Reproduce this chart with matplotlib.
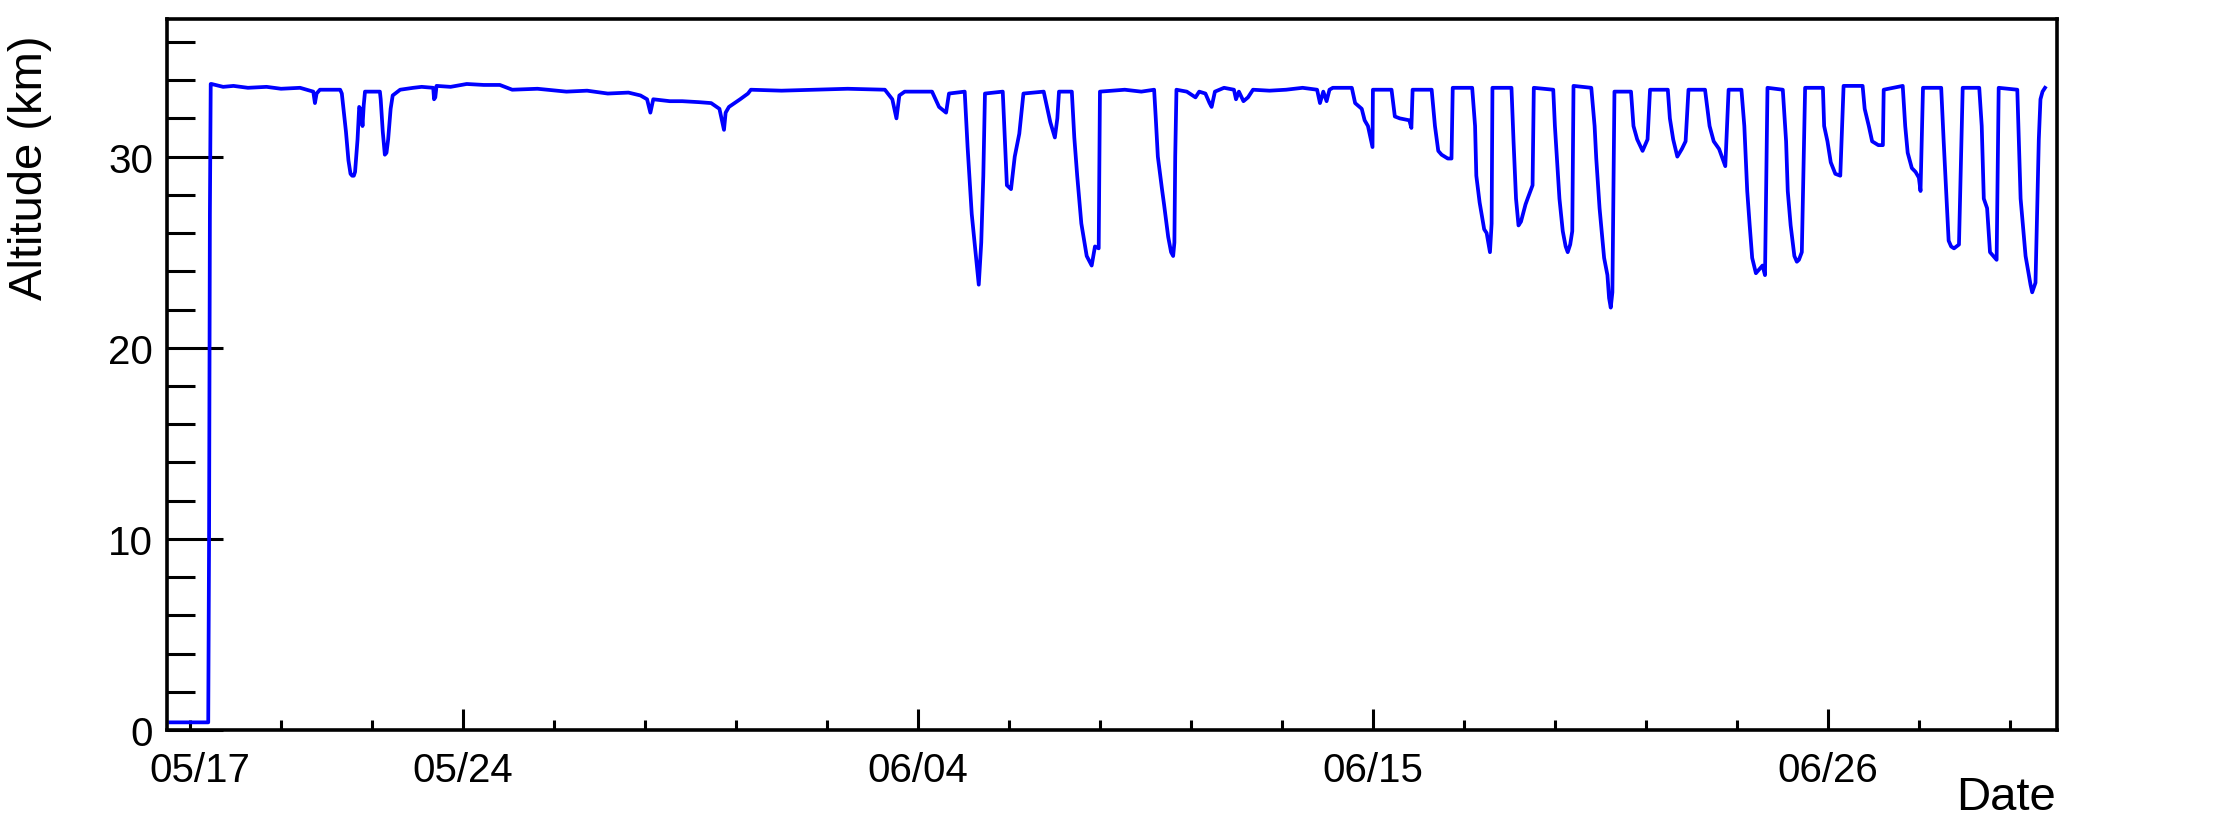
import matplotlib
matplotlib.use("Agg")
import matplotlib.pyplot as plt
from matplotlib.ticker import FixedLocator

plt.rcParams['font.family'] = ['Liberation Sans', 'DejaVu Sans']

# time in days since 05/17 00:00, altitude in km
days = [
    -0.08, 0.84, 0.86, 0.87, 0.88, 0.90,
    0.92, 1.2, 1.45, 1.8, 2.25, 2.6, 3.06, 3.38, 3.42, 3.46, 3.54, 4.03, 4.07,
    4.09, 4.17, 4.23, 4.28, 4.32, 4.36, 4.39, 4.45, 4.49, 4.52, 4.55, 4.57,
    4.60, 4.63, 4.99, 5.01, 5.06, 5.11, 5.15, 5.19, 5.25, 5.30, 5.48, 5.8,
    6.00, 6.28, 6.30, 6.33, 6.36, 6.7, 7.09, 7.5, 7.89,
    8.19, 8.8, 9.5, 10.0, 10.5, 11.0, 11.29, 11.45, 11.53, 11.6, 12.0, 12.3,
    12.7, 13.0, 13.2, 13.31, 13.35, 13.43, 13.7, 13.89, 13.96, 14.7, 15.5,
    16.3, 17.2, 17.38, 17.48, 17.55, 17.68, 18.34, 18.51, 18.68, 18.75,
    19.13, 19.2, 19.3, 19.4, 19.47, 19.53, 19.58, 19.62, 20.05, 20.1, 20.15,
    20.25, 20.34, 20.45, 20.55, 21.04, 21.1, 21.2, 21.31, 21.37, 21.41,
    21.72, 21.78, 21.85, 21.95, 22.08, 22.2, 22.28, 22.37, 22.40,
    23.0, 23.4, 23.71, 23.75, 23.8, 23.9, 23.95, 24.05, 24.12, 24.17, 24.20,
    24.22, 24.25, 24.5, 24.71, 24.8, 24.95, 25.05, 25.10, 25.18, 25.4, 25.64,
    25.69, 25.76, 25.87, 25.98, 26.10, 26.5, 26.9, 27.3, 27.65, 27.72,
    27.80, 27.88, 27.95, 28.03, 28.49, 28.57, 28.73, 28.80, 28.88, 28.99,
    29.00, 29.45, 29.53, 29.65, 29.88, 29.93, 29.96, 30.42, 30.50, 30.58,
    30.66, 30.81, 30.90, 30.93, 31.40, 31.47, 31.50, 31.58, 31.69, 31.75,
    31.83, 31.87, 31.89, 32.35, 32.40, 32.46, 32.52, 32.58, 32.69, 32.74,
    32.86, 32.89, 33.36, 33.40, 33.45, 33.51, 33.59, 33.66, 33.71, 33.77,
    33.82, 33.85, 34.28, 34.36, 34.40, 34.48, 34.59, 34.67, 34.71, 34.75,
    34.79, 34.84, 35.24, 35.30, 35.39, 35.52, 35.64, 35.70, 36.13, 36.18,
    36.26, 36.36, 36.47, 36.56, 36.63, 37.03, 37.14, 37.24, 37.37, 37.52,
    37.60, 37.91, 37.98, 38.05, 38.11, 38.17, 38.26, 38.42, 38.48, 38.54,
    38.91, 38.99, 39.03, 39.10, 39.19, 39.25, 39.30, 39.37, 39.45, 39.88,
    39.91, 39.99, 40.07, 40.18, 40.30, 40.38, 40.84, 40.89, 40.99, 41.07,
    41.22, 41.33, 41.35, 41.81, 41.87, 41.93, 42.03, 42.12, 42.20, 42.24,
    42.30, 42.74, 42.80, 42.86, 42.92, 42.98, 43.05, 43.17, 43.26, 43.66,
    43.72, 43.77, 43.85, 43.92, 44.00, 44.08, 44.13, 44.58, 44.66, 44.78,
    44.90, 44.94, 45.02, 45.10, 45.14, 45.19, 45.25,
]
altitude = [
    0.40, 0.40, 10.0, 19.0, 27.0, 33.8,
    33.8, 33.65, 33.7, 33.6, 33.65, 33.55, 33.6, 33.4, 32.8, 33.3, 33.5, 33.5,
    33.3, 32.9, 31.3, 29.8, 29.1, 29.0, 29.0, 29.2, 30.9, 32.6, 32.5, 32.2,
    31.6, 32.7, 33.4, 33.4, 33.0, 31.3, 30.1, 30.2, 30.9, 32.5, 33.2, 33.5,
    33.6, 33.65, 33.6, 33.0, 33.1, 33.7, 33.65, 33.8, 33.75, 33.75,
    33.5, 33.55, 33.4, 33.45, 33.3, 33.35, 33.2, 33.0, 32.3, 33.0, 32.9,
    32.9, 32.85, 32.8, 32.5, 31.4, 32.3, 32.6, 33.0, 33.3, 33.5, 33.45,
    33.5, 33.55, 33.5, 33.0, 32.0, 33.2, 33.4, 33.4, 32.6, 32.3, 33.3,
    33.4, 30.5, 27.0, 24.8, 23.3, 25.5, 29.0, 33.3, 33.4, 31.0, 28.5,
    28.3, 30.0, 31.2, 33.3, 33.4, 32.8, 31.8, 31.0, 32.0, 33.4,
    33.4, 31.0, 29.0, 26.5, 24.8, 24.3, 25.3, 25.2, 33.4,
    33.5, 33.4, 33.5, 32.0, 30.0, 28.3, 27.5, 25.8, 25.0, 24.8, 25.5,
    30.0, 33.5, 33.4, 33.1, 33.4, 33.3, 32.8, 32.6, 33.4, 33.6, 33.5,
    33.0, 33.4, 32.9, 33.1, 33.5, 33.45, 33.5, 33.6, 33.5, 32.8,
    33.4, 32.9, 33.5, 33.6, 33.6, 32.8, 32.5, 31.9, 31.6, 30.5,
    33.5, 33.5, 32.1, 32.0, 31.9, 31.5, 33.5, 33.5, 31.6, 30.3,
    30.1, 29.9, 29.9, 33.6, 33.6, 31.6, 29.0, 27.6, 26.2, 26.0,
    25.0, 26.5, 33.6, 33.6, 30.8, 27.8, 26.4, 26.6, 27.5, 27.8,
    28.5, 33.6, 33.5, 31.6, 29.9, 27.8, 26.1, 25.3, 25.0, 25.4,
    26.1, 33.7, 33.6, 31.6, 29.9, 27.3, 24.7, 23.8, 22.6, 22.1,
    22.9, 33.4, 33.4, 31.6, 30.9, 30.3, 30.9, 33.5, 33.5, 32.0,
    30.9, 30.0, 30.4, 30.8, 33.5, 33.5, 31.6, 30.8, 30.4, 29.5,
    33.5, 33.5, 31.6, 28.2, 26.4, 24.7, 23.9, 24.3, 23.8, 33.6,
    33.5, 30.8, 28.2, 26.4, 24.8, 24.5, 24.6, 25.0, 33.6, 33.6,
    31.6, 30.8, 29.7, 29.1, 29.0, 33.7, 33.7, 32.5, 31.6, 30.8,
    30.6, 30.6, 33.5, 33.7, 31.6, 30.2, 29.4, 29.2, 28.9, 28.2,
    33.6, 33.6, 30.8, 28.2, 25.6, 25.3, 25.2, 25.4, 33.6, 33.6,
    31.6, 27.8, 27.3, 25.0, 24.8, 24.6, 33.6, 33.5, 27.8, 24.8,
    23.3, 22.9, 23.4, 30.9, 33.0, 33.4, 33.6,
]

tick_days = [0.64, 7, 18, 29, 40]
tick_labels = ['05/17', '05/24', '06/04', '06/15', '06/26']
minor_days = [0.4, 2.6, 4.8, 9.2, 11.4, 13.6, 15.8, 20.2, 22.4, 24.6, 26.8,
              31.2, 33.4, 35.6, 37.8, 42.2, 44.4]
y_major = [0, 10, 20, 30]
y_minor = [2, 4, 6, 8, 12, 14, 16, 18, 22, 24, 26, 28, 32, 34, 36]

fig = plt.figure(figsize=(22.31, 8.2), dpi=100)
ax = fig.add_axes([167 / 2231, 89 / 820, 1890 / 2231, 711 / 820])

ax.plot(days, altitude, color='#0000ff', lw=2.7)

ax.set_xlim(-0.157, 45.54)
ax.set_ylim(0, 37.2)

ax.xaxis.set_major_locator(FixedLocator(tick_days))
ax.set_xticklabels(tick_labels)
ax.xaxis.set_minor_locator(FixedLocator(minor_days))
ax.set_yticks(y_major)
ax.yaxis.set_minor_locator(FixedLocator(y_minor))
ax.xaxis.get_major_ticks()[0].tick1line.set_visible(False)

ax.tick_params(axis='x', which='major', direction='in', length=15, width=2.2, pad=15, labelsize=29)
ax.tick_params(axis='x', which='minor', direction='in', length=7.2, width=2.2)
ax.tick_params(axis='y', which='major', direction='in', length=40, width=2.2, pad=10, labelsize=29)
ax.tick_params(axis='y', which='minor', direction='in', length=20, width=2.2)

for s in ax.spines.values():
    s.set_linewidth(2.6)

fig.text(2056 / 2231, 10 / 820, 'Date', ha='right', va='baseline', fontsize=34)
fig.text(8 / 2231, 1 - 36 / 820, 'Altitude (km)', rotation=90, ha='left', va='top', fontsize=34)

fig.savefig('out.png', dpi=100)
